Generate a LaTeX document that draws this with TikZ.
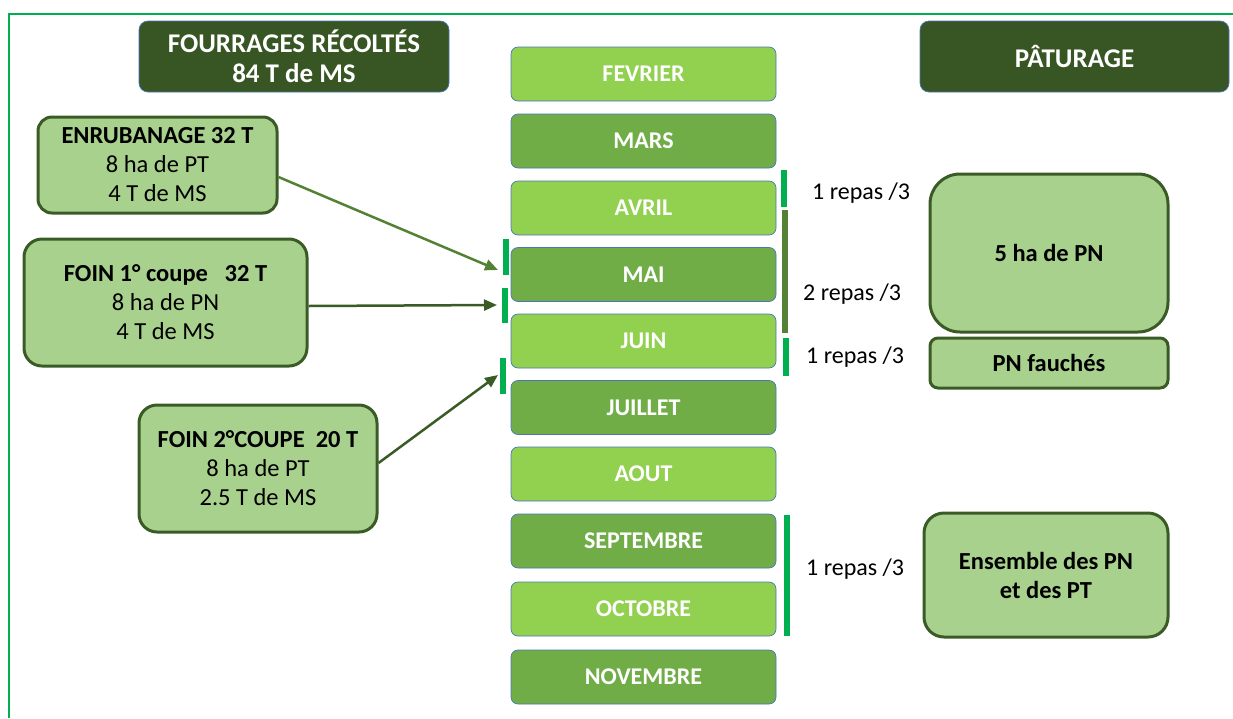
\documentclass[tikz,border=0pt]{standalone}
\usepackage{fontspec}
\setmainfont{Carlito}
\usetikzlibrary{arrows.meta}
\definecolor{mlight}{HTML}{92D050}
\definecolor{mdark}{HTML}{70AD47}
\definecolor{hdark}{HTML}{375623}
\definecolor{bblue}{HTML}{4A76B8}
\definecolor{bxfill}{HTML}{A9D18E}
\definecolor{bxdraw}{HTML}{3B5B26}
\definecolor{gbar}{HTML}{00B050}
\definecolor{obar}{HTML}{548235}
\definecolor{arrA}{HTML}{548235}
\definecolor{arrB}{HTML}{3B5B26}
\tikzset{
  month/.style={rounded corners=7pt, draw=bblue, line width=0.7pt, minimum width=265pt, minimum height=54pt, text=white, font=\bfseries\fontsize{24}{26}\selectfont, inner sep=0pt},
  mlt/.style={month, fill=mlight},
  mdk/.style={month, fill=mdark},
  header/.style={rounded corners=9pt, draw=bblue, line width=0.7pt, fill=hdark, text=white, font=\bfseries\fontsize{27}{30}\selectfont, align=center, inner sep=0pt},
  fbox/.style={draw=bxdraw, line width=3pt, fill=bxfill, align=center, inner sep=0pt, font=\fontsize{24.5}{29}\selectfont},
  bbox/.style={fbox, font=\bfseries\fontsize{24.5}{29}\selectfont},
  rep/.style={font=\fontsize{24}{26}\selectfont, inner sep=0pt},
  arr/.style={line width=2.5pt, -{Triangle[length=13pt,width=11pt]}},
}
\begin{document}
\begin{tikzpicture}[x=1pt,y=-1pt]
\useasboundingbox (0,0) rectangle (1233,718);
% frame
\draw[gbar, line width=2pt] (1233,14) -- (9,14) -- (9,718);
% headers
\node[header, minimum width=310pt, minimum height=71pt] (frec) at (294,56.5) {FOURRAGES RÉCOLTÉS\\84 T de MS};
\node[header, minimum width=309pt, minimum height=71pt] (past) at (1074.5,56.5) {PÂTURAGE};
% months
\node[mlt] (fev) at (643.5,74) {FEVRIER};
\node[mdk] (mar) at (643.5,141) {MARS};
\node[mlt] (avr) at (643.5,208) {AVRIL};
\node[mdk] (mai) at (643.5,274.5) {MAI};
\node[mlt] (jui) at (643.5,341) {JUIN};
\node[mdk] (jul) at (643.5,407.5) {JUILLET};
\node[mlt] (aou) at (643.5,474) {AOUT};
\node[mdk] (sep) at (643.5,541) {SEPTEMBRE};
\node[mlt] (oct) at (643.5,609) {OCTOBRE};
\node[mdk] (nov) at (643.5,677) {NOVEMBRE};
% left boxes
\node[fbox, rounded corners=14pt, minimum width=239pt, minimum height=96pt] (enr) at (157.5,165) {\textbf{ENRUBANAGE 32 T}\\8 ha de PT\\4 T de MS};
\node[fbox, rounded corners=18pt, minimum width=283pt, minimum height=127pt] (foin1) at (165.5,302.5) {\textbf{FOIN 1° coupe\ \ \ 32 T}\\8 ha de PN\\4 T de MS};
\node[fbox, rounded corners=18pt, minimum width=238pt, minimum height=127pt] (foin2) at (258,468.5) {\textbf{FOIN 2°COUPE\ \ 20 T}\\8 ha de PT\\2.5 T de MS};
% right boxes
\node[bbox, rounded corners=30pt, minimum width=238pt, minimum height=158pt] (pn5) at (1049,253) {5 ha de PN};
\node[bbox, rounded corners=8pt, minimum width=238pt, minimum height=50pt] (pnf) at (1049,363) {PN fauchés};
\node[bbox, rounded corners=20pt, minimum width=244pt, minimum height=124pt] (ens) at (1046,575) {Ensemble des PN\\et des PT};
% arrow targets
\coordinate (tA) at (498,270);
\coordinate (tB) at (497,305);
\coordinate (tC) at (498,375);
\draw[arr, arrA] (enr.east |- 0,177) -- (tA);
\draw[arr, arrB] (foin1.east |- 0,306) -- (tB);
\draw[arr, arrB] (foin2.east |- 0,463) -- (tC);
% bars
\fill[gbar] (503,239) rectangle (509,275);
\fill[gbar] (502,288) rectangle (508,323);
\fill[gbar] (500,358) rectangle (506,394);
\fill[gbar] (781,170) rectangle (787,207);
\fill[obar] (782,210) rectangle (788,333);
\fill[gbar] (783,338) rectangle (789,376);
\fill[gbar] (784,515) rectangle (790,636);
% labels
\node[rep, anchor=west] (r1) at (812,193) {1 repas /3};
\node[rep, anchor=west] (r2) at (803,294) {2 repas /3};
\node[rep, anchor=west] (r3) at (806,357) {1 repas /3};
\node[rep, anchor=west] (r4) at (806,569) {1 repas /3};
\end{tikzpicture}
\end{document}
